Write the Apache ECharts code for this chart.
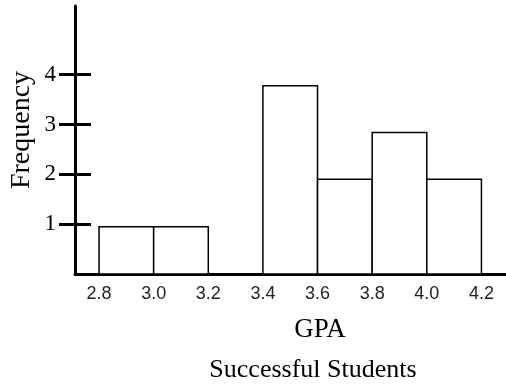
<!DOCTYPE html>
<html><head><meta charset="utf-8">
<script src="https://cdn.jsdelivr.net/npm/echarts@6/dist/echarts.min.js"></script>
<style>html,body{margin:0;padding:0;background:#fff}#c{width:506px;height:385px}</style>
</head><body><div id="c"></div>
<script>
var binStarts = [2.8, 3.0, 3.2, 3.4, 3.6, 3.8, 4.0];
var binEnds   = [3.0, 3.2, 3.4, 3.6, 3.8, 4.0, 4.2];
var frequency = [0.95, 0.95, 0, 3.78, 1.9, 2.84, 1.9];
var xTicks = [2.8, 3.0, 3.2, 3.4, 3.6, 3.8, 4.0, 4.2];
var yTicks = [1, 2, 3, 4];

var data = binStarts.map(function (s, i) { return [s, binEnds[i], frequency[i]]; });
var serif = 'Liberation Serif, Times New Roman, serif';
var chart = echarts.init(document.getElementById('c'));
chart.setOption({
  animation: false,
  grid: { left: 75, right: 0, top: 6, bottom: 111 },
  xAxis: {
    type: 'value', min: 2.712, max: 4.29,
    splitLine: { show: false },
    axisLine: { lineStyle: { color: '#000', width: 3 } },
    axisTick: { show: false },
    axisLabel: {
      customValues: xTicks, color: '#222', margin: 11,
      fontFamily: 'Liberation Sans Narrow, Arial Narrow, sans-serif', fontSize: 18,
      formatter: function (v) { return v.toFixed(1); }
    }
  },
  yAxis: [{
    type: 'value', min: 0, max: 5.38,
    splitLine: { show: false },
    axisLine: { lineStyle: { color: '#000', width: 3 } },
    axisTick: { customValues: yTicks, length: 16, lineStyle: { color: '#000', width: 3 } },
    axisLabel: { customValues: yTicks, color: '#000', margin: 19, fontFamily: serif, fontSize: 23 }
  }, {
    type: 'value', min: 0, max: 5.38, position: 'left', offset: 0,
    splitLine: { show: false },
    axisLine: { show: false },
    axisTick: { customValues: yTicks, inside: true, length: 16, lineStyle: { color: '#000', width: 3 } },
    axisLabel: { show: false }
  }],
  title: [{
    text: 'GPA', left: 315, textAlign: 'center', top: 311,
    textStyle: { color: '#000', fontFamily: serif, fontSize: 27, fontWeight: 'normal' }
  }, {
    text: 'Successful Students', left: 308, textAlign: 'center', top: 352,
    textStyle: { color: '#000', fontFamily: serif, fontSize: 26, fontWeight: 'normal' }
  }],
  graphic: [{
    type: 'text', x: 22, y: 130, rotation: Math.PI / 2,
    style: { text: 'Frequency', fill: '#000', font: '28px ' + serif, textAlign: 'center', textVerticalAlign: 'middle' }
  }],
  series: [{
    type: 'custom',
    data: data,
    renderItem: function (params, api) {
      var v = api.value(2);
      if (!v) return null;
      var p0 = api.coord([api.value(0), 0]);
      var p1 = api.coord([api.value(1), v]);
      return {
        type: 'rect',
        shape: { x: p0[0], y: p1[1], width: p1[0] - p0[0], height: p0[1] - p1[1] },
        style: { fill: '#fff', stroke: '#000', lineWidth: 1.5 }
      };
    },
    encode: { x: [0, 1], y: 2 }
  }]
});
</script></body></html>
